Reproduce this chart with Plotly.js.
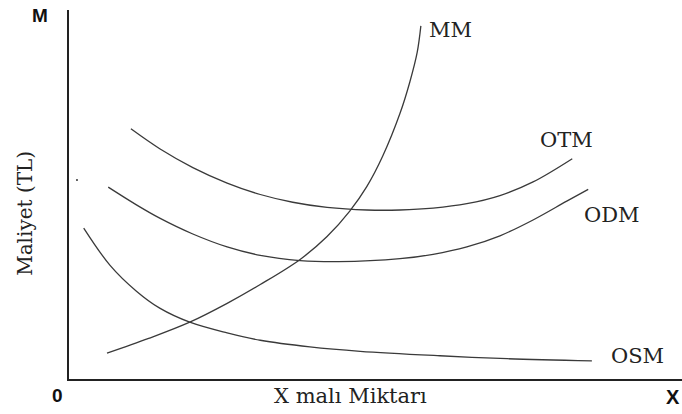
<!DOCTYPE html>
<html>
<head>
<meta charset="utf-8">
<script src="https://cdn.plot.ly/plotly-3.0.1.min.js"></script>
<style>
  html, body { margin: 0; padding: 0; background: #fff; }
  #chart { width: 682px; height: 414px; }
</style>
</head>
<body>
<div id="chart"></div>
<script>
// Curve data (quantity on x, cost on y)
const otmX = [1.01, 1.48, 2.02, 2.58, 3.12, 3.65, 4.21, 4.86, 5.40, 5.94, 6.49, 7.03, 7.57, 8.21];
const otmY = [6.78, 6.24, 5.73, 5.31, 5.00, 4.79, 4.65, 4.58, 4.58, 4.63, 4.75, 4.97, 5.34, 5.97];

const odmX = [0.64, 1.10, 1.48, 2.02, 2.58, 3.12, 3.77, 4.40, 5.40, 5.94, 6.49, 7.03, 7.57, 8.12, 8.47];
const odmY = [5.20, 4.72, 4.36, 3.93, 3.58, 3.35, 3.21, 3.18, 3.26, 3.38, 3.58, 3.88, 4.31, 4.82, 5.14];

const osmX = [0.24, 0.67, 1.10, 1.48, 1.97, 2.58, 3.12, 3.93, 4.75, 6.05, 7.15, 8.53];
const osmY = [4.09, 3.08, 2.38, 1.92, 1.54, 1.25, 1.05, 0.87, 0.75, 0.63, 0.55, 0.49];

const mmX = [0.62, 1.30, 1.97, 2.58, 3.12, 3.77, 4.21, 4.58, 4.86, 5.12, 5.40, 5.56, 5.68, 5.74];
const mmY = [0.70, 1.10, 1.54, 2.05, 2.56, 3.24, 3.86, 4.55, 5.22, 6.05, 7.20, 8.05, 8.85, 9.57];

// curve labels and where they sit
const curveNames = ['MM', 'OTM', 'ODM', 'OSM'];
const labelX = [6.22, 8.12, 8.86, 9.27];
const labelY = [9.46, 6.48, 4.44, 0.62];

const lineStyle = { color: '#3a3a3a', width: 1.3, shape: 'spline', smoothing: 1 };

const curve = (x, y, name) => ({
  x: x, y: y, name: name, mode: 'lines', type: 'scatter',
  line: lineStyle, hoverinfo: 'skip'
});

const data = [
  curve(otmX, otmY, 'OTM'),
  curve(odmX, odmY, 'ODM'),
  curve(osmX, osmY, 'OSM'),
  curve(mmX, mmY, 'MM'),
  // stray speck next to the y axis in the original
  { x: [0.13], y: [5.39], mode: 'markers', type: 'scatter',
    marker: { size: 2, color: '#333' }, hoverinfo: 'skip' }
];

const serif = 'DejaVu Serif, serif';
const sansBold = 'Liberation Sans, Arial, sans-serif';

const annotations = curveNames.map((name, i) => ({
  x: labelX[i], y: labelY[i], xref: 'x', yref: 'y',
  text: name, showarrow: false,
  font: { family: serif, size: 21, color: '#222' }
}));

// axis titles
annotations.push(
  { x: 0.46, y: -0.046, xref: 'paper', yref: 'paper', text: 'X malı Miktarı', showarrow: false,
    xanchor: 'center', yanchor: 'middle', font: { family: serif, size: 21, color: '#222' } },
  { x: -0.072, y: 0.45, xref: 'paper', yref: 'paper', text: 'Maliyet (TL)', showarrow: false,
    textangle: -90, xanchor: 'center', yanchor: 'middle', font: { family: serif, size: 20, color: '#222' } }
);

// corner letters
annotations.push(
  { x: -0.047, y: 0.986, xref: 'paper', yref: 'paper', text: '<b>M</b>', showarrow: false,
    xanchor: 'center', yanchor: 'middle', font: { family: sansBold, size: 19, color: '#111' } },
  { x: -0.018, y: -0.046, xref: 'paper', yref: 'paper', text: '<b>0</b>', showarrow: false,
    xanchor: 'center', yanchor: 'middle', font: { family: sansBold, size: 19, color: '#111' } },
  { x: 1.0, y: -0.049, xref: 'paper', yref: 'paper', text: '<b>X</b>', showarrow: false,
    xanchor: 'right', yanchor: 'middle', font: { family: sansBold, size: 20, color: '#111' } }
);

const layout = {
  width: 682,
  height: 414,
  margin: { l: 69, r: 0, t: 10, b: 35 },
  showlegend: false,
  paper_bgcolor: '#fff',
  plot_bgcolor: '#fff',
  xaxis: {
    range: [0, 10], showgrid: false, zeroline: false,
    showline: true, linecolor: '#222', linewidth: 1.6,
    ticks: '', showticklabels: false, automargin: false
  },
  yaxis: {
    range: [0, 10], showgrid: false, zeroline: false,
    showline: true, linecolor: '#222', linewidth: 1.6,
    ticks: '', showticklabels: false, automargin: false
  },
  annotations: annotations
};

Plotly.newPlot('chart', data, layout, { staticPlot: true, displayModeBar: false });
</script>
</body>
</html>
